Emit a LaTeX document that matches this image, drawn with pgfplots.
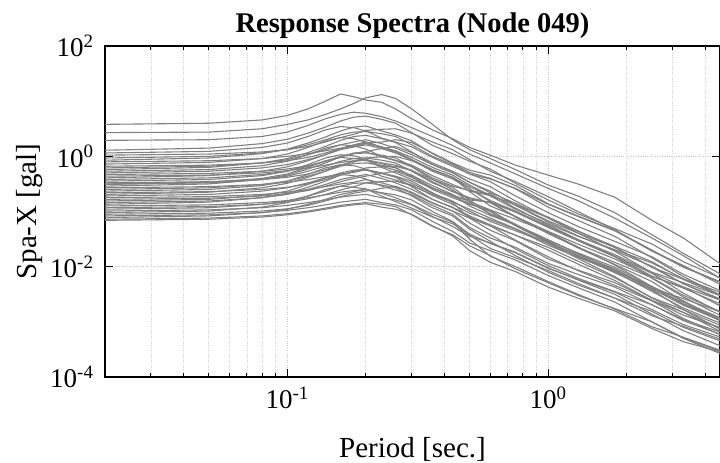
\documentclass[border=0pt]{standalone}
\usepackage{fontspec}
\setmainfont{Liberation Serif}
\usepackage{pgfplots}
\usepackage{pgfplotstable}
\pgfplotsset{compat=1.18}
\definecolor{curvegray}{RGB}{128,128,128}

\pgfplotstableread{
name v1 v2 v3 v4 v5 v6 v7 v8 v9 v10 v11 v12 v13 v14 v15 v16 v17 v18 v19 v20 v21 v22 v23
T 0.02 0.05 0.08 0.1 0.12 0.14 0.16 0.18 0.2 0.23 0.26 0.3 0.36 0.43 0.5 0.6 0.75 1.0 1.3 1.8 2.5 3.3 4.6
c1 3.80 3.98 4.57 5.50 7.24 10.0 13.5 12.0 10.5 9.55 7.24 4.79 3.02 2.09 1.45 1.05 0.692 0.457 0.316 0.182 0.0692 0.0331 0.0110
c2 2.69 2.75 3.16 3.80 4.57 5.75 7.24 9.12 11.5 13.2 11.2 7.24 3.80 2.00 1.32 0.912 0.575 0.302 0.191 0.0955 0.0380 0.0174 0.00724
c3 1.95 2.00 2.29 2.75 3.63 4.79 5.75 6.31 6.03 5.25 4.37 3.31 2.29 1.58 1.10 0.759 0.479 0.263 0.158 0.0759 0.0331 0.0158 0.00603
c4 1.29 1.41 1.70 2.04 2.63 3.39 4.37 5.13 5.37 4.68 3.98 2.69 1.58 1.12 0.813 0.589 0.324 0.162 0.0912 0.0490 0.0257 0.0123 0.00617
c5 1.15 1.23 1.45 1.74 2.29 3.02 3.47 3.31 2.88 2.14 1.82 1.48 0.955 0.661 0.479 0.389 0.263 0.135 0.0813 0.0447 0.0195 0.00977 0.00513
c6 1.05 1.10 1.20 1.32 1.51 1.82 2.19 2.51 2.95 3.09 3.16 2.63 1.82 1.32 0.871 0.537 0.347 0.186 0.100 0.0468 0.0191 0.0105 0.00468
c7 0.933 1.00 1.15 1.32 1.62 2.00 2.45 2.75 2.82 2.57 2.29 1.62 1.00 0.708 0.479 0.347 0.191 0.0955 0.0537 0.0288 0.0151 0.00724 0.00363
c8 0.851 0.933 1.12 1.35 1.74 2.24 2.88 3.39 3.55 2.88 2.45 1.91 1.12 0.741 0.513 0.398 0.257 0.120 0.0692 0.0355 0.0145 0.00661 0.00302
c9 0.794 0.832 0.912 1.00 1.12 1.26 1.41 1.51 1.70 1.48 1.26 0.955 0.631 0.457 0.302 0.195 0.132 0.0794 0.0447 0.0224 0.00977 0.00589 0.00302
c10 0.724 0.776 0.912 1.10 1.45 1.91 2.19 2.09 1.82 1.45 1.23 0.871 0.562 0.417 0.282 0.191 0.110 0.0603 0.0355 0.0204 0.0117 0.00603 0.00339
c11 0.661 0.692 0.759 0.832 0.955 1.15 1.38 1.58 1.74 1.82 2.00 1.78 1.15 0.759 0.562 0.457 0.295 0.138 0.0832 0.0457 0.0200 0.0100 0.00525
c12 0.617 0.661 0.759 0.871 1.07 1.32 1.62 1.82 2.00 1.70 1.41 1.07 0.708 0.513 0.339 0.219 0.141 0.0759 0.0407 0.0191 0.00776 0.00427 0.00191
c13 0.575 0.631 0.759 0.912 1.17 1.51 1.95 2.29 2.40 2.09 1.78 1.20 0.708 0.501 0.339 0.234 0.129 0.0646 0.0363 0.0195 0.0102 0.00490 0.00245
c14 0.537 0.575 0.676 0.813 1.07 1.41 1.62 1.55 1.35 1.00 0.851 0.692 0.447 0.309 0.234 0.195 0.132 0.0676 0.0407 0.0224 0.00977 0.00490 0.00257
c15 0.501 0.537 0.617 0.708 0.871 1.07 1.32 1.48 1.62 1.38 1.15 0.871 0.575 0.417 0.229 0.126 0.0813 0.0437 0.0257 0.0138 0.00661 0.00427 0.00245
c16 0.468 0.490 0.537 0.589 0.676 0.813 0.977 1.12 1.23 1.38 1.51 1.17 0.759 0.537 0.389 0.282 0.155 0.0776 0.0437 0.0234 0.0123 0.00589 0.00295
c17 0.437 0.457 0.501 0.550 0.617 0.692 0.776 0.832 0.871 0.759 0.692 0.562 0.347 0.229 0.170 0.145 0.0977 0.0513 0.0295 0.0151 0.00617 0.00282 0.00129
c18 0.407 0.447 0.537 0.646 0.832 1.07 1.38 1.62 1.82 1.48 1.17 0.851 0.537 0.389 0.257 0.158 0.102 0.0550 0.0309 0.0155 0.00676 0.00407 0.00209
c19 0.380 0.407 0.468 0.537 0.661 0.813 1.00 1.12 1.15 1.05 0.933 0.661 0.407 0.288 0.240 0.209 0.115 0.0575 0.0309 0.0155 0.00759 0.00331 0.00145
c20 0.355 0.380 0.447 0.537 0.708 0.933 1.07 1.02 0.891 0.661 0.562 0.457 0.295 0.204 0.126 0.0851 0.0575 0.0295 0.0178 0.00977 0.00427 0.00214 0.00112
c21 0.331 0.347 0.380 0.417 0.479 0.575 0.692 0.794 0.933 0.977 1.00 0.832 0.575 0.417 0.257 0.151 0.0977 0.0525 0.0309 0.0166 0.00794 0.00513 0.00295
c22 0.309 0.331 0.380 0.437 0.537 0.661 0.813 0.912 0.933 0.851 0.759 0.537 0.331 0.234 0.178 0.145 0.0794 0.0398 0.0224 0.0120 0.00631 0.00302 0.00151
c23 0.288 0.316 0.380 0.457 0.589 0.759 0.977 1.15 1.20 0.977 0.832 0.646 0.380 0.251 0.145 0.0912 0.0589 0.0275 0.0166 0.00912 0.00398 0.00200 0.00105
c24 0.269 0.282 0.309 0.339 0.380 0.427 0.479 0.513 0.575 0.501 0.427 0.324 0.214 0.155 0.102 0.0661 0.0447 0.0269 0.0158 0.00851 0.00407 0.00263 0.00151
c25 0.251 0.269 0.309 0.355 0.437 0.537 0.661 0.741 0.759 0.692 0.617 0.437 0.269 0.191 0.162 0.148 0.0813 0.0407 0.0219 0.0110 0.00537 0.00234 0.00102
c26 0.234 0.251 0.295 0.355 0.468 0.617 0.708 0.676 0.589 0.437 0.372 0.302 0.195 0.135 0.0933 0.0708 0.0479 0.0245 0.0148 0.00813 0.00355 0.00178 0.000933
c27 0.219 0.229 0.251 0.275 0.316 0.380 0.457 0.525 0.617 0.646 0.661 0.550 0.380 0.275 0.162 0.0891 0.0575 0.0309 0.0174 0.00871 0.00380 0.00229 0.00117
c28 0.204 0.224 0.269 0.324 0.417 0.537 0.692 0.813 0.851 0.741 0.631 0.427 0.251 0.178 0.135 0.105 0.0575 0.0288 0.0155 0.00776 0.00380 0.00166 0.000724
c29 0.191 0.204 0.234 0.269 0.331 0.407 0.501 0.562 0.575 0.490 0.437 0.355 0.219 0.145 0.0759 0.0457 0.0295 0.0138 0.00871 0.00513 0.00245 0.00132 0.000776
c30 0.178 0.186 0.204 0.224 0.251 0.282 0.316 0.339 0.380 0.331 0.282 0.214 0.141 0.102 0.0759 0.0550 0.0372 0.0224 0.0126 0.00631 0.00275 0.00166 0.000851
c31 0.166 0.174 0.191 0.209 0.240 0.288 0.347 0.398 0.437 0.490 0.537 0.417 0.269 0.191 0.138 0.100 0.0550 0.0275 0.0155 0.00832 0.00437 0.00209 0.00105
c32 0.155 0.166 0.195 0.234 0.309 0.407 0.468 0.447 0.389 0.288 0.245 0.200 0.129 0.0891 0.0513 0.0331 0.0224 0.0115 0.00724 0.00427 0.00204 0.00110 0.000646
c33 0.145 0.155 0.178 0.204 0.251 0.309 0.380 0.427 0.468 0.398 0.331 0.251 0.166 0.120 0.0832 0.0575 0.0372 0.0200 0.0112 0.00562 0.00245 0.00148 0.000759
c34 0.135 0.148 0.178 0.214 0.275 0.355 0.457 0.537 0.562 0.490 0.417 0.282 0.166 0.117 0.0794 0.0550 0.0302 0.0151 0.00851 0.00457 0.00240 0.00115 0.000575
c35 0.126 0.132 0.145 0.158 0.178 0.200 0.224 0.240 0.251 0.219 0.200 0.162 0.100 0.0661 0.0389 0.0263 0.0178 0.00933 0.00589 0.00347 0.00166 0.000891 0.000525
c36 0.117 0.123 0.135 0.148 0.170 0.204 0.245 0.282 0.331 0.347 0.355 0.295 0.204 0.148 0.110 0.0759 0.0490 0.0263 0.0141 0.00661 0.00269 0.00148 0.000661
c37 0.110 0.117 0.135 0.155 0.191 0.234 0.288 0.324 0.331 0.302 0.269 0.191 0.117 0.0832 0.0479 0.0288 0.0158 0.00794 0.00468 0.00269 0.00155 0.000794 0.000447
c38 0.102 0.107 0.117 0.129 0.145 0.162 0.182 0.195 0.204 0.178 0.162 0.132 0.0813 0.0537 0.0355 0.0269 0.0182 0.00955 0.00575 0.00316 0.00138 0.000692 0.000363
c39 0.0955 0.102 0.120 0.145 0.191 0.251 0.288 0.275 0.257 0.191 0.151 0.115 0.0794 0.0603 0.0372 0.0214 0.0145 0.00851 0.00501 0.00269 0.00129 0.000832 0.000479
c40 0.0891 0.0933 0.102 0.112 0.129 0.155 0.186 0.214 0.234 0.263 0.288 0.224 0.145 0.102 0.0617 0.0380 0.0209 0.0105 0.00617 0.00355 0.00204 0.00105 0.000589
c41 0.0832 0.0871 0.0955 0.105 0.117 0.132 0.148 0.158 0.166 0.145 0.132 0.107 0.0661 0.0437 0.0269 0.0195 0.0132 0.00692 0.00417 0.00229 0.00100 0.000501 0.000263
c42 0.0776 0.0832 0.0955 0.110 0.135 0.166 0.204 0.229 0.251 0.214 0.178 0.135 0.0891 0.0646 0.0316 0.0155 0.0100 0.00537 0.00316 0.00170 0.000813 0.000525 0.000302
c43 0.0724 0.0759 0.0832 0.0912 0.102 0.115 0.129 0.138 0.145 0.135 0.123 0.0871 0.0537 0.0380 0.0240 0.0158 0.00912 0.00513 0.00302 0.00174 0.00100 0.000513 0.000288
c44 0.0692 0.0724 0.0794 0.0871 0.0977 0.110 0.123 0.132 0.138 0.120 0.110 0.0891 0.0550 0.0363 0.0195 0.0120 0.00813 0.00427 0.00269 0.00158 0.000759 0.000437 0.000282
c45 0.316 0.339 0.398 0.479 0.631 0.832 0.955 0.912 0.851 0.631 0.501 0.380 0.263 0.200 0.151 0.107 0.0724 0.0427 0.0229 0.0107 0.00437 0.00240 0.00107
}\rawspectra
\pgfplotstabletranspose[colnames from=name]\spectra\rawspectra

\begin{document}
\begin{tikzpicture}
\begin{axis}[
  scale only axis,
  width=615pt, height=331pt,
  xmode=log, ymode=log,
  xmin=0.02, xmax=4.56,
  ymin=1e-4, ymax=1e2,
  xtick={0.1,1},
  xticklabels={10\textsuperscript{-1},10\textsuperscript{0}},
  minor xtick={0.02,0.03,0.04,0.05,0.06,0.07,0.08,0.09,0.2,0.3,0.4,0.5,0.6,0.7,0.8,0.9,2,3,4},
  ytick={1e-4,1e-2,1,1e2},
  yticklabels={10\textsuperscript{-4},10\textsuperscript{-2},10\textsuperscript{0},10\textsuperscript{2}},
  yminorticks=false,
  tick align=inside,
  major tick length=8pt,
  minor tick length=4pt,
  every tick/.style={black, line width=0.9pt},
  axis line style={black, line width=1.2pt},
  xmajorgrids, ymajorgrids, xminorgrids,
  major grid style={dotted, line width=0.8pt, gray!45},
  minor grid style={dotted, line width=0.7pt, gray!35},
  tick label style={font=\fontsize{27}{30}\selectfont},
  xticklabel style={yshift=-6pt},
  yticklabel style={xshift=-8pt},
  title={Response Spectra (Node 049)},
  title style={font=\bfseries\fontsize{28.5}{32}\selectfont, yshift=-2pt},
  xlabel={Period [sec.]},
  xlabel style={font=\fontsize{29}{32}\selectfont, at={(axis description cs:0.5,-0.2417)}, anchor=base},
  ylabel={Spa-X [gal]},
  ylabel style={font=\fontsize{29}{32}\selectfont, at={(axis description cs:-0.122,0.5)}, anchor=center},
]
\pgfplotsinvokeforeach{1,...,45}{
  \addplot[draw=curvegray, line width=1.1pt, mark=none] table[x=T, y=c#1] {\spectra};
}
\coordinate (sw) at (rel axis cs:0,0);
\coordinate (ne) at (rel axis cs:1,1);
\end{axis}
\pgfresetboundingbox
\useasboundingbox ([xshift=-105pt,yshift=-86pt]sw) rectangle ([yshift=46pt]ne);
\end{tikzpicture}
\end{document}
